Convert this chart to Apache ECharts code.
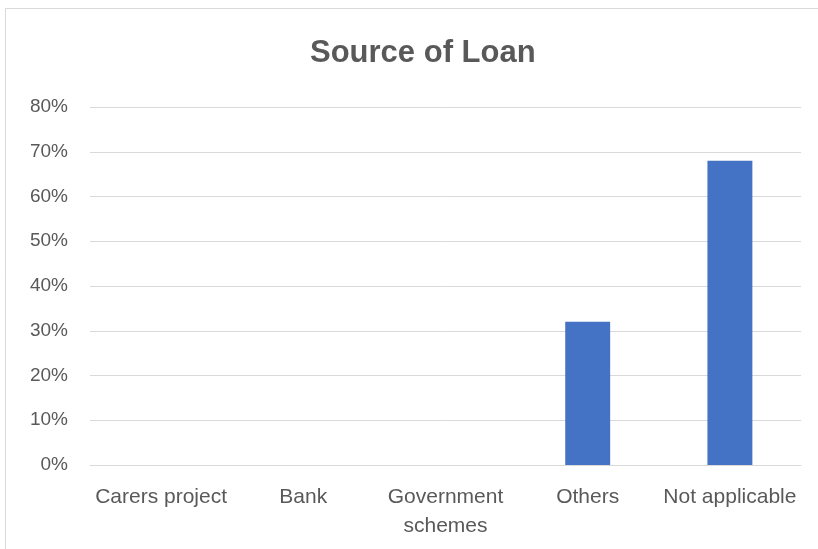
<!DOCTYPE html>
<html>
<head>
<meta charset="utf-8">
<script src="https://cdn.jsdelivr.net/npm/echarts@6/dist/echarts.min.js"></script>
<style>
  html, body { margin: 0; padding: 0; background: #fff; }
  #chart { width: 818px; height: 549px; }
</style>
</head>
<body>
<div id="chart"></div>
<script>
// Loan sources and the share of respondents for each (percent)
const categories = ['Carers project', 'Bank', 'Government\nschemes', 'Others', 'Not applicable'];
const shares = [0, 0, 0, 32, 68];
const yTicks = [0, 10, 20, 30, 40, 50, 60, 70, 80];

const FONT = "'Liberation Sans', sans-serif";
const chart = echarts.init(document.getElementById('chart'));

chart.setOption({
  animation: false,
  backgroundColor: '#ffffff',
  graphic: [{
    type: 'rect',
    shape: { x: 5.5, y: 8.5, width: 900, height: 700 },
    style: { fill: 'none', stroke: '#d9d9d9', lineWidth: 1 },
    silent: true
  }],
  title: {
    text: 'Source of Loan',
    left: 305,
    top: 33,
    textStyle: { fontFamily: FONT, fontSize: 31, fontWeight: 'bold', color: '#595959' }
  },
  grid: { left: 90, right: 17, top: 107, bottom: 84 },
  xAxis: {
    type: 'category',
    data: categories,
    axisLine: { show: true, lineStyle: { color: '#d9d9d9', width: 1 } },
    axisTick: { show: false },
    axisLabel: {
      interval: 0,
      margin: 18,
      fontFamily: FONT,
      fontSize: 21,
      lineHeight: 29,
      color: '#595959'
    }
  },
  yAxis: {
    type: 'value',
    min: yTicks[0],
    max: yTicks[yTicks.length - 1],
    interval: 10,
    axisLine: { show: false },
    axisTick: { show: false },
    splitLine: { lineStyle: { color: '#d9d9d9', width: 1 } },
    axisLabel: {
      margin: 22,
      fontFamily: FONT,
      fontSize: 19,
      color: '#595959',
      formatter: v => v + '%'
    }
  },
  series: [{
    type: 'bar',
    data: shares,
    barWidth: '31.6%',
    itemStyle: { color: '#4472c4' }
  }]
});
</script>
</body>
</html>
